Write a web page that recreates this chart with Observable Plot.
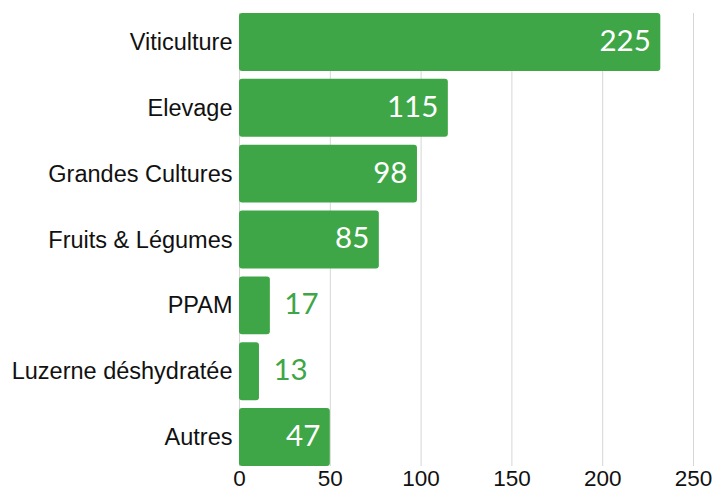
<!DOCTYPE html>
<html>
<head>
<meta charset="utf-8">
<script src="https://cdn.jsdelivr.net/npm/d3@7"></script>
<script src="https://cdn.jsdelivr.net/npm/@observablehq/plot@0.6"></script>
<style>
  html, body { margin: 0; padding: 0; background: #fff; }
  g[aria-label="y-axis tick label"] { font-size: 23.5px; }
  g[aria-label="x-axis tick label"] { font-size: 22.5px; }
</style>
</head>
<body>
<div id="chart"></div>
<script>
const categories = ["Viticulture", "Elevage", "Grandes Cultures", "Fruits & Légumes", "PPAM", "Luzerne déshydratée", "Autres"];
const values = [232, 115, 98, 77, 17, 11, 50];
const valueLabels = ["225", "115", "98", "85", "17", "13", "47"];
const xTicks = [0, 50, 100, 150, 200, 250];

const green = "#3ea646";
const rows = categories.map((c, i) => ({category: c, value: values[i], label: valueLabels[i], inside: values[i] > 30}));

const chart = Plot.plot({
  width: 712,
  height: 490,
  marginLeft: 239,
  marginRight: 19,
  marginTop: 13,
  marginBottom: 24,
  style: {fontFamily: "'Liberation Sans', Arial, sans-serif", fontSize: "22px", color: "#111", background: "#fff"},
  x: {domain: [0, 250], ticks: xTicks, tickSize: 0, tickPadding: 4, label: null, tickFormat: d => String(d)},
  y: {domain: categories, paddingInner: 0.121, paddingOuter: 0, round: false, tickSize: 0, tickPadding: 7, label: null},
  marks: [
    Plot.ruleX(xTicks, {stroke: "#d6d6d6", strokeWidth: 1}),
    Plot.barX(rows, {x: "value", y: "category", fill: green, rx: 3}),
    Plot.text(rows.filter(d => d.inside), {x: "value", y: "category", text: "label", fill: "#fff", textAnchor: "end", dx: -10, dy: -1, fontSize: 29.5, fontWeight: 400, fontFamily: "Lato, sans-serif"}),
    Plot.text(rows.filter(d => !d.inside), {x: "value", y: "category", text: "label", fill: green, textAnchor: "start", dx: 14, dy: -1, fontSize: 29.5, fontWeight: 400, fontFamily: "Lato, sans-serif"})
  ]
});
document.getElementById("chart").appendChild(chart);
</script>
</body>
</html>
